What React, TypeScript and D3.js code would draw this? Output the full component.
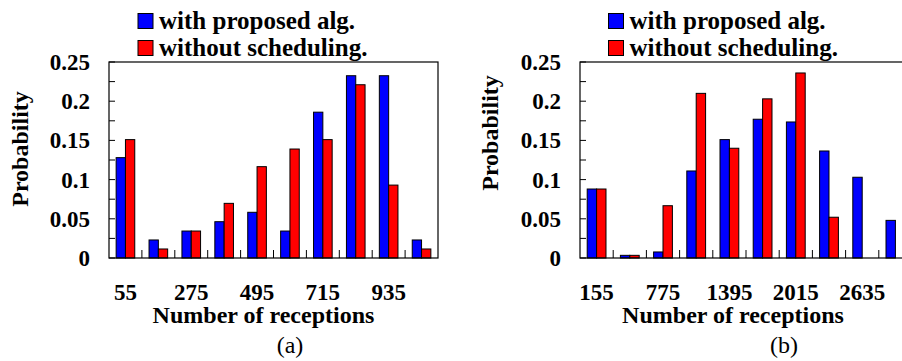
import React from "react";
import * as d3 from "d3";

const binsA = ["55", "165", "275", "385", "495", "605", "715", "825", "935", "1045"];
const withA = [0.128, 0.023, 0.0344, 0.0463, 0.0583, 0.0344, 0.186, 0.2325, 0.2325, 0.023];
const withoutA = [0.151, 0.0115, 0.0344, 0.0697, 0.1165, 0.139, 0.151, 0.221, 0.093, 0.0115];

const binsB = ["155", "465", "775", "1085", "1395", "1705", "2015", "2325", "2635", "2945"];
const withB = [0.088, 0.0034, 0.0077, 0.111, 0.151, 0.177, 0.1735, 0.1365, 0.103, 0.048];
const withoutB = [0.088, 0.0034, 0.0667, 0.21, 0.14, 0.203, 0.236, 0.052, 0, 0];

const yTicks = [0, 0.05, 0.1, 0.15, 0.2, 0.25];
const yMinor = [0.025, 0.075, 0.125, 0.175, 0.225];
const seriesNames = ["with proposed alg.", "without scheduling."];
const colors = ["#0000ff", "#ff0000"];

const FONT = "Liberation Serif";

function Panel({ x0, x1, bins, s1, s2, caption, ylabX, ylabY, legendX, capX, titleX }) {
  const top = 62;
  const bottom = 258;
  const x = d3.scaleBand().domain(bins).range([x0, x1]).paddingInner(0).paddingOuter(0);
  const y = d3.scaleLinear().domain([0, 0.25]).range([bottom, top]);
  const bw = x.bandwidth();
  const barW = bw * 0.283;
  const labeled = bins.filter((_, i) => i % 2 === 0);
  return (
    <g>
      {bins.map((b, i) => {
        const cx = x(b) + bw / 2;
        return (
          <g key={b}>
            {s1[i] > 0 && (
              <rect x={cx - barW} y={y(s1[i])} width={barW} height={bottom - y(s1[i])}
                fill={colors[0]} stroke="#000" strokeWidth={1} />
            )}
            {s2[i] > 0 && (
              <rect x={cx} y={y(s2[i])} width={barW} height={bottom - y(s2[i])}
                fill={colors[1]} stroke="#000" strokeWidth={1} />
            )}
          </g>
        );
      })}
      <rect x={x0} y={top} width={x1 - x0} height={bottom - top} fill="none" stroke="#000" strokeWidth={1.2} />
      {[...yTicks, ...yMinor].map((t) => (
        <line key={"yt" + t} x1={x0} x2={x0 + 6} y1={y(t)} y2={y(t)} stroke="#000" strokeWidth={1} />
      ))}
      {yTicks.map((t) => (
        <text key={"yl" + t} x={x0 - 19} y={y(t)} dy="0.35em" textAnchor="end"
          fontFamily={FONT} fontWeight="bold" fontSize={23}>{t === 0 ? "0" : String(t)}</text>
      ))}
      {bins.slice(1).map((b) => (
        <line key={"xt" + b} x1={x(b)} x2={x(b)} y1={bottom} y2={bottom - 8} stroke="#000" strokeWidth={1} />
      ))}
      {labeled.map((b) => (
        <text key={"xl" + b} x={x(b) + bw / 2} y={300} textAnchor="middle"
          fontFamily={FONT} fontWeight="bold" fontSize={23}>{b}</text>
      ))}
      <text x={titleX} y={323} textAnchor="middle" fontFamily={FONT}
        fontWeight="bold" fontSize={24}>Number of receptions</text>
      <text transform={`translate(${ylabX},${ylabY}) rotate(-90)`} textAnchor="middle" dy="0.35em"
        fontFamily={FONT} fontWeight="bold" fontSize={24}>Probability</text>
      <text x={capX} y={353} textAnchor="middle" fontFamily={FONT} fontSize={24}>{caption}</text>
      {seriesNames.map((n, i) => (
        <g key={n}>
          <rect x={legendX} y={13.5 + i * 27} width={15} height={15} fill={colors[i]} stroke="#000" strokeWidth={1} />
          <text x={legendX + 21} y={29 + i * 27} fontFamily={FONT} fontWeight="bold" fontSize={25}>{n}</text>
        </g>
      ))}
    </g>
  );
}

export default function App() {
  return (
    <svg width={902} height={361} style={{ position: "absolute", left: 0, top: 0, background: "#fff" }}>
      <rect x={0} y={0} width={902} height={361} fill="#fff" />
      <Panel x0={109} x1={438} bins={binsA} s1={withA} s2={withoutA} caption="(a)"
        ylabX={20} ylabY={149} legendX={138} capX={290} titleX={263.5} />
      <Panel x0={580} x1={912} bins={binsB} s1={withB} s2={withoutB} caption="(b)"
        ylabX={490} ylabY={133} legendX={608.5} capX={784} titleX={733} />
    </svg>
  );
}
